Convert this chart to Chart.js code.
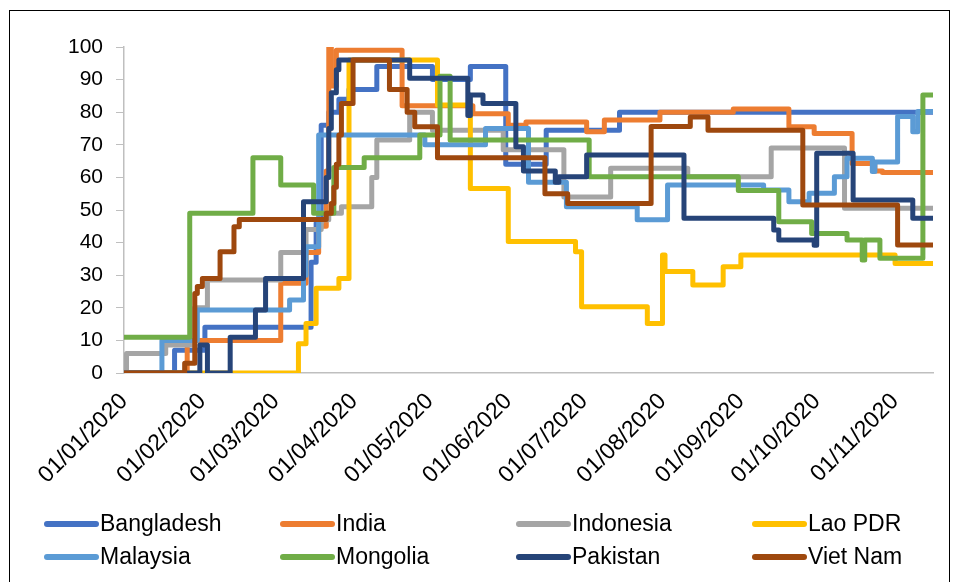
<!DOCTYPE html>
<html>
<head>
<meta charset="utf-8">
<script src="https://cdn.jsdelivr.net/npm/chart.js@4.4.1/dist/chart.umd.min.js"></script>
<style>
  body { margin: 0; background: #fff; }
  #wrap { position: relative; width: 958px; height: 582px; }
  #frame { position: absolute; left: 9px; top: 10px; width: 939px; height: 580px;
           border-left: 1px solid #000; border-top: 1px solid #000; border-right: 1px solid #000; }
  #legend { position: absolute; left: 44px; top: 507px; display: grid;
            grid-template-columns: repeat(4, 236px); grid-auto-rows: 33px;
            font-family: "Liberation Sans", Arial, sans-serif; font-size: 23px; color: #000; }
  #legend .item { display: flex; align-items: center; }
  #legend .swatch { width: 55px; height: 6px; border-radius: 3px; margin-right: 1px; }
</style>
</head>
<body>
<div id="wrap">
  <canvas id="grafico"></canvas>
  <div id="frame"></div>
  <div id="legend"></div>
</div>
<script>
// eixo x: dias desde 01/01/2020
const lastDay = 320;
const monthStarts = [0, 31, 60, 91, 121, 152, 182, 213, 244, 274, 305];
const monthLabels = ['01/01/2020', '01/02/2020', '01/03/2020', '01/04/2020', '01/05/2020', '01/06/2020',
                     '01/07/2020', '01/08/2020', '01/09/2020', '01/10/2020', '01/11/2020'];

const countries = ['Bangladesh', 'India', 'Indonesia', 'Lao PDR', 'Malaysia', 'Mongolia', 'Pakistan', 'Viet Nam'];
const colors = ['#4472C4', '#ED7D31', '#A5A5A5', '#FFC000', '#5B9BD5', '#70AD47', '#264478', '#9E480E'];

// [dia, valor] a partir do qual o valor vale
const bangladesh = [[0, 0], [20, 7], [32, 14], [74, 34], [76, 46], [78, 76], [81, 80], [85, 84], [89, 87],
  [100, 94], [122, 90], [137, 94], [151, 64], [167, 74.5], [196, 80]];
const india = [[0, 0], [25, 10], [62, 27.5], [72, 37], [77, 45], [80, 62], [81, 100], [82, 88], [84, 99],
  [110, 82], [138, 79.5], [152, 76], [159, 77], [183, 74], [190, 77.6], [212, 80], [241, 81], [263, 75.5],
  [273, 73.5], [288, 64.3], [297, 62], [300, 61.5]];
const indonesia = [[0, 0], [1, 6], [16.5, 8.6], [28, 20], [33, 28.5], [62, 37], [72, 44], [78, 47], [81, 49],
  [86, 51], [98, 60], [100, 71.5], [113, 80], [122, 74.5], [150, 68.5], [174, 54], [192.5, 62.8], [223, 60.2],
  [256, 69], [285, 50.5]];
const laoPdr = [[0, 0], [69, 9], [72, 15.2], [76, 26], [85, 29], [89, 96], [124, 82.2], [137, 56.6], [152, 40.3],
  [178.6, 37.2], [181, 20.3], [207, 15.2], [213, 36.2], [214, 31.1], [225, 27], [237, 32.6], [244, 36.2], [305, 33.6]];
const malaysia = [[0, 0], [15, 10], [29, 19.3], [65.5, 22.4], [71, 30], [72, 38.7], [77, 73], [119, 70], [143, 75],
  [160, 58.5], [175, 51], [203, 47], [215, 57.7], [253, 56.1], [263, 52.5], [271, 55.1], [281, 60.2], [286, 65.9],
  [296, 61.8], [297, 64.7], [306, 78.7], [312, 74], [314, 80.2]];
const mongolia = [[0, 11], [26, 49], [51, 66], [62, 57.7], [75, 49], [83, 63], [95, 66], [117, 73], [125, 91],
  [129, 71.5], [184, 60.2], [243, 56], [259, 46.4], [272, 42.8], [286, 40.8], [292, 34.7], [293, 40.8], [299, 35.2],
  [316, 85.3]];
const pakistan = [[0, 0], [30, 8.6], [33, 0], [42, 11], [52, 19.3], [56, 29], [71, 52.5], [80, 60], [81, 75],
  [82, 86], [84, 93], [85, 96], [113, 90.4], [136, 79], [137, 85.3], [142, 82.7], [155, 69.4], [158, 62],
  [170.6, 58.5], [172, 60.2], [183, 66.9], [221.5, 47.5], [257, 43.9], [259, 40.8], [273, 39.2], [274, 67.4],
  [288.4, 53.1], [312, 47.5]];
const vietNam = [[0, 0], [24, 3], [28, 24.4], [29, 26.5], [31, 29], [38, 37.2], [43.5, 44.9], [45.6, 47.1],
  [80, 49], [82, 52], [83, 57], [84, 64], [85, 73], [86, 82.7], [90.6, 96], [105, 87], [112, 80], [115, 75.5],
  [124, 66], [166.5, 55], [175.5, 52], [208.5, 75.6], [224, 78.5], [231, 74.5], [268.5, 51.5], [306, 39.3]];

const series = [bangladesh, india, indonesia, laoPdr, malaysia, mongolia, pakistan, vietNam];

window.addEventListener('DOMContentLoaded', () => {
  Chart.defaults.font.family = '"Liberation Sans", Arial, sans-serif';
  Chart.defaults.color = '#000';

  const datasets = series.map((s, i) => {
    const pts = s.map(p => ({ x: p[0], y: p[1] }));
    pts.push({ x: lastDay, y: s[s.length - 1][1] });
    return {
      label: countries[i],
      data: pts,
      borderColor: colors[i],
      backgroundColor: colors[i],
      borderWidth: 5,
      stepped: true,
      pointRadius: 0,
      borderJoinStyle: 'round',
      borderCapStyle: 'round',
      order: series.length - i
    };
  });

  new Chart(document.getElementById('grafico'), {
    type: 'line',
    data: { datasets },
    options: {
      responsive: true,
      maintainAspectRatio: false,
      animation: false,
      layout: { padding: { left: 10, right: 25, top: 47, bottom: 99 } },
      plugins: { legend: { display: false }, tooltip: { enabled: false } },
      scales: {
        x: {
          type: 'linear',
          min: 0,
          max: lastDay,
          afterBuildTicks: axis => { axis.ticks = monthStarts.map(v => ({ value: v })); },
          afterFit: axis => { axis.height = 110; },
          grid: { display: false, drawTicks: false },
          border: { color: '#BFBFBF', width: 1.5 },
          ticks: {
            autoSkip: false,
            minRotation: 45,
            maxRotation: 45,
            padding: 15,
            font: { size: 23 },
            callback: (v, idx) => monthLabels[idx]
          }
        },
        y: {
          min: 0,
          max: 100,
          afterFit: axis => { axis.width = 114; },
          grid: { drawOnChartArea: false, tickLength: 8, color: '#BFBFBF' },
          border: { color: '#BFBFBF', width: 1.5 },
          ticks: { stepSize: 10, padding: 13, font: { size: 21 } }
        }
      }
    }
  });

  // legenda em grade 4 x 2
  const legend = document.getElementById('legend');
  countries.forEach((name, i) => {
    const item = document.createElement('div');
    item.className = 'item';
    const sw = document.createElement('span');
    sw.className = 'swatch';
    sw.style.background = colors[i];
    const txt = document.createElement('span');
    txt.textContent = name;
    item.appendChild(sw);
    item.appendChild(txt);
    legend.appendChild(item);
  });
});
</script>
</body>
</html>
